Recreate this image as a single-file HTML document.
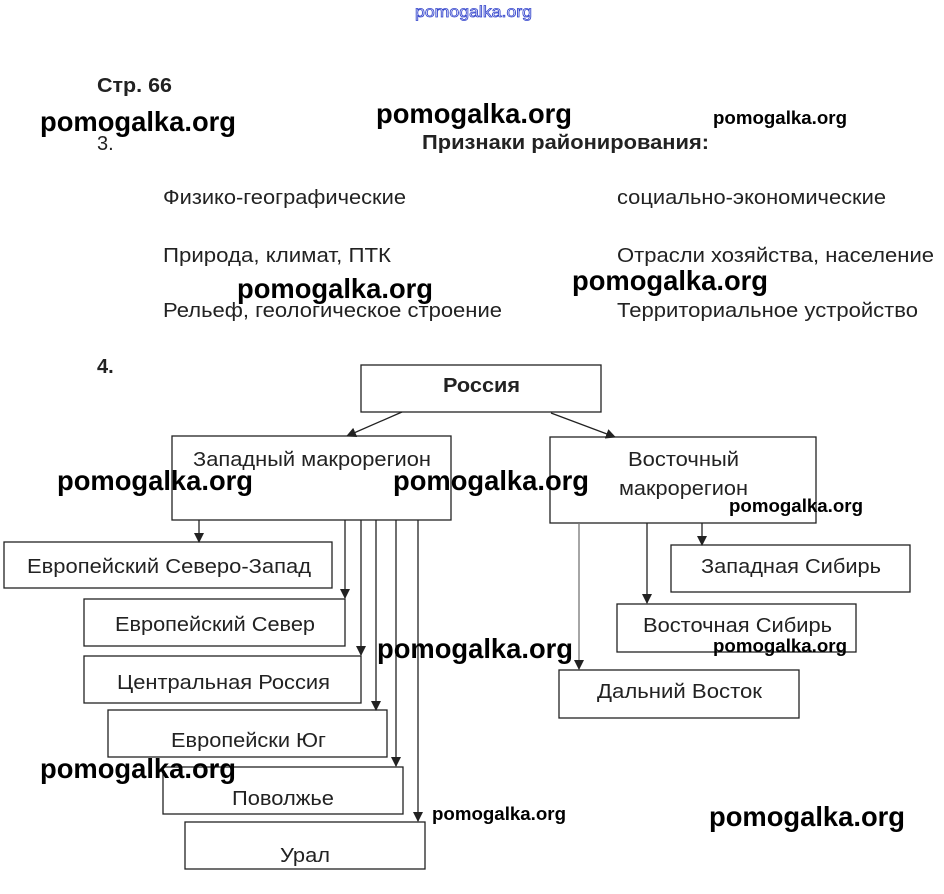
<!DOCTYPE html>
<html><head><meta charset="utf-8"><style>
html,body{margin:0;padding:0;background:#fff;}
svg{display:block;}
text{font-family:"Liberation Sans",sans-serif;}
.t{font-size:20px;fill:#222;}
.w{font-weight:bold;fill:#000;font-size:28px;}
.ws{font-weight:bold;fill:#000;font-size:18.5px;}
rect{fill:none;stroke:#222;stroke-width:1.3;}
line{stroke:#222;stroke-width:1.3;}
</style></head><body>
<svg width="944" height="894" viewBox="0 0 944 894" xmlns="http://www.w3.org/2000/svg">
<defs><marker id="a" markerWidth="10" markerHeight="10" refX="9" refY="5" orient="auto" markerUnits="userSpaceOnUse"><path d="M0,0 L10,5 L0,10 z" fill="#222"/></marker></defs>
<text x="415" y="17" font-size="16" fill="none" stroke="#3344cc" stroke-width="0.8" textLength="117" lengthAdjust="spacingAndGlyphs">pomogalka.org</text>
<text x="97" y="92" class="t" font-weight="bold" textLength="75" lengthAdjust="spacingAndGlyphs">Стр. 66</text>
<text x="97" y="150" class="t">3.</text>
<text x="422" y="149" class="t" font-weight="bold" textLength="287" lengthAdjust="spacingAndGlyphs">Признаки районирования:</text>
<text x="163" y="204" class="t" textLength="243" lengthAdjust="spacingAndGlyphs">Физико-географические</text>
<text x="617" y="204" class="t" textLength="269" lengthAdjust="spacingAndGlyphs">социально-экономические</text>
<text x="163" y="262" class="t" textLength="228" lengthAdjust="spacingAndGlyphs">Природа, климат, ПТК</text>
<text x="617" y="262" class="t" textLength="317" lengthAdjust="spacingAndGlyphs">Отрасли хозяйства, население</text>
<text x="163" y="317" class="t" textLength="339" lengthAdjust="spacingAndGlyphs">Рельеф, геологическое строение</text>
<text x="617" y="317" class="t" textLength="301" lengthAdjust="spacingAndGlyphs">Территориальное устройство</text>
<text x="97" y="373" class="t" font-weight="bold">4.</text>

<rect x="361" y="365" width="240" height="47"/>
<text x="443" y="392" class="t" font-weight="bold" textLength="77" lengthAdjust="spacingAndGlyphs">Россия</text>
<line x1="402" y1="412" x2="347" y2="436" marker-end="url(#a)"/>
<line x1="551" y1="413" x2="615" y2="437" marker-end="url(#a)"/>

<rect x="172" y="436" width="279" height="84"/>
<text x="193" y="466" class="t" textLength="238" lengthAdjust="spacingAndGlyphs">Западный макрорегион</text>
<rect x="550" y="437" width="266" height="86"/>
<text x="628" y="466" class="t" textLength="111" lengthAdjust="spacingAndGlyphs">Восточный</text>
<text x="619" y="495" class="t" textLength="129" lengthAdjust="spacingAndGlyphs">макрорегион</text>

<rect x="4" y="542" width="328" height="46"/>
<text x="27" y="573" class="t" textLength="284" lengthAdjust="spacingAndGlyphs">Европейский Северо-Запад</text>
<rect x="84" y="599" width="261" height="47"/>
<text x="115" y="631" class="t" textLength="200" lengthAdjust="spacingAndGlyphs">Европейский Север</text>
<rect x="84" y="656" width="277" height="47"/>
<text x="117" y="689" class="t" textLength="213" lengthAdjust="spacingAndGlyphs">Центральная Россия</text>
<rect x="108" y="710" width="279" height="47"/>
<text x="171" y="747" class="t" textLength="155" lengthAdjust="spacingAndGlyphs">Европейски Юг</text>
<rect x="163" y="767" width="240" height="47"/>
<text x="232" y="805" class="t" textLength="102" lengthAdjust="spacingAndGlyphs">Поволжье</text>
<rect x="185" y="822" width="240" height="47"/>
<text x="280" y="862" class="t" textLength="50" lengthAdjust="spacingAndGlyphs">Урал</text>

<line x1="199" y1="520" x2="199" y2="542" marker-end="url(#a)"/>
<line x1="345" y1="520" x2="345" y2="598" marker-end="url(#a)"/>
<line x1="361" y1="520" x2="361" y2="655" marker-end="url(#a)"/>
<line x1="376" y1="520" x2="376" y2="710" marker-end="url(#a)"/>
<line x1="396" y1="520" x2="396" y2="766" marker-end="url(#a)"/>
<line x1="418" y1="520" x2="418" y2="821" marker-end="url(#a)"/>

<rect x="671" y="545" width="239" height="47"/>
<text x="701" y="573" class="t" textLength="180" lengthAdjust="spacingAndGlyphs">Западная Сибирь</text>
<rect x="617" y="604" width="239" height="48"/>
<text x="643" y="632" class="t" textLength="189" lengthAdjust="spacingAndGlyphs">Восточная Сибирь</text>
<rect x="559" y="670" width="240" height="48"/>
<text x="597" y="698" class="t" textLength="165" lengthAdjust="spacingAndGlyphs">Дальний Восток</text>
<line x1="702" y1="523" x2="702" y2="545" marker-end="url(#a)"/>
<line x1="647" y1="523" x2="647" y2="603" marker-end="url(#a)"/>
<line x1="579" y1="523" x2="579" y2="669" marker-end="url(#a)" style="stroke:#777"/>

<text x="40" y="131" class="w" textLength="196" lengthAdjust="spacingAndGlyphs">pomogalka.org</text>
<text x="376" y="123" class="w" textLength="196" lengthAdjust="spacingAndGlyphs">pomogalka.org</text>
<text x="713" y="124" class="ws" textLength="134" lengthAdjust="spacingAndGlyphs">pomogalka.org</text>
<text x="237" y="298" class="w" textLength="196" lengthAdjust="spacingAndGlyphs">pomogalka.org</text>
<text x="572" y="290" class="w" textLength="196" lengthAdjust="spacingAndGlyphs">pomogalka.org</text>
<text x="57" y="490" class="w" textLength="196" lengthAdjust="spacingAndGlyphs">pomogalka.org</text>
<text x="393" y="490" class="w" textLength="196" lengthAdjust="spacingAndGlyphs">pomogalka.org</text>
<text x="729" y="512" class="ws" textLength="134" lengthAdjust="spacingAndGlyphs">pomogalka.org</text>
<text x="377" y="658" class="w" textLength="196" lengthAdjust="spacingAndGlyphs">pomogalka.org</text>
<text x="713" y="652" class="ws" textLength="134" lengthAdjust="spacingAndGlyphs">pomogalka.org</text>
<text x="40" y="778" class="w" textLength="196" lengthAdjust="spacingAndGlyphs">pomogalka.org</text>
<text x="432" y="820" class="ws" textLength="134" lengthAdjust="spacingAndGlyphs">pomogalka.org</text>
<text x="709" y="826" class="w" textLength="196" lengthAdjust="spacingAndGlyphs">pomogalka.org</text>
</svg>
</body></html>
